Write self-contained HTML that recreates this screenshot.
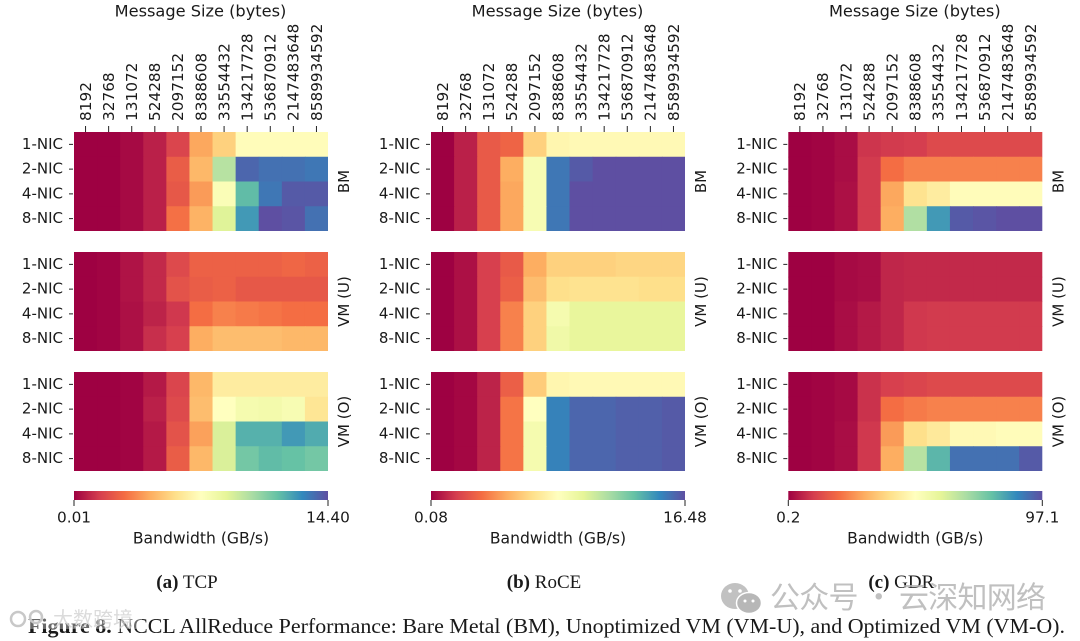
<!DOCTYPE html>
<html lang="en">
<head>
<meta charset="utf-8">
<title>NCCL AllReduce Performance Heatmaps</title>
<style>
html,body{margin:0;padding:0;background:#fff;width:1080px;height:641px;overflow:hidden}
svg{display:block;filter:blur(.35px)}
.m{font-family:"DejaVu Sans","Liberation Sans",sans-serif;fill:#1a1a1a}
.s{font-family:"Liberation Serif",serif;fill:#1a1a1a}
</style>
</head>
<body>
<svg id="chart" xmlns="http://www.w3.org/2000/svg" width="1080" height="641" viewBox="0 0 1080 641">
<defs>
<linearGradient id="spectral" x1="0" x2="1" y1="0" y2="0">
<stop offset="0" stop-color="#9e0142"/><stop offset=".1" stop-color="#d53e4f"/><stop offset=".2" stop-color="#f46d43"/><stop offset=".3" stop-color="#fdae61"/><stop offset=".4" stop-color="#fee08b"/><stop offset=".5" stop-color="#ffffbf"/><stop offset=".6" stop-color="#e6f598"/><stop offset=".7" stop-color="#abdda4"/><stop offset=".8" stop-color="#66c2a5"/><stop offset=".9" stop-color="#3288bd"/><stop offset="1" stop-color="#5e4fa2"/>
</linearGradient>
</defs>
<g id="panels"></g>
<text class="s" x="28" y="633" font-size="21" textLength="1037" lengthAdjust="spacingAndGlyphs"><tspan font-weight="bold">Figure 8.</tspan> NCCL AllReduce Performance: Bare Metal (BM), Unoptimized VM (VM-U), and Optimized VM (VM-O).</text>
<g opacity="0.82">
<ellipse cx="735" cy="596" rx="14" ry="13" fill="#b4b4b4"/>
<ellipse cx="749" cy="603" rx="12.5" ry="10.5" fill="#a8a8a8" stroke="#fff" stroke-width="1.5"/>
<circle cx="730" cy="591" r="1.8" fill="#fff"/>
<circle cx="740" cy="591" r="1.8" fill="#fff"/>
<circle cx="745" cy="601" r="1.5" fill="#fff"/>
<circle cx="753" cy="601" r="1.5" fill="#fff"/>
<text x="770" y="608" font-size="30" fill="#b2b2b2" textLength="276" style="font-family:'Noto Sans CJK SC',sans-serif">公众号 · 云深知网络</text>
</g>
<g>
<rect x="8" y="611" width="134" height="18" fill="#fff" opacity="0.35"/>
<circle cx="18" cy="619" r="7" fill="none" stroke="#c8c8c8" stroke-width="2.5"/>
<circle cx="36" cy="617" r="6" fill="none" stroke="#c8c8c8" stroke-width="2.5"/>
<text x="53" y="626" font-size="20" fill="#d2d2d2" opacity=".8" style="font-family:'Noto Sans CJK SC',sans-serif">大数跨境</text>
</g>
</svg>
<script>
// Message sizes (columns) and NIC counts (rows)
var messageSizes = ["8192","32768","131072","524288","2097152","8388608","33554432","134217728","536870912","2147483648","8589934592"];
var nicLabels = ["1-NIC","2-NIC","4-NIC","8-NIC"];
var groupLabels = ["BM","VM (U)","VM (O)"];

// Bandwidth per cell, expressed as position on the colour bar (0 = min, 1 = max)
var tcpBM = [
 [0,0,.015,.05,.115,.29,.37,.49,.49,.49,.49],
 [0,0,.015,.05,.165,.32,.68,.96,.94,.94,.93],
 [0,0,.015,.05,.155,.27,.52,.81,.93,.98,.98],
 [0,0,.015,.05,.205,.31,.61,.87,1,.99,.94]];
var tcpVMU = [
 [0,.005,.03,.065,.125,.175,.175,.175,.175,.185,.175],
 [0,.005,.03,.065,.145,.165,.175,.155,.155,.155,.155],
 [0,.005,.025,.055,.09,.2,.23,.22,.21,.2,.2],
 [0,.005,.025,.075,.105,.3,.33,.33,.33,.32,.32]];
var tcpVMO = [
 [0,0,.005,.04,.115,.32,.44,.44,.44,.44,.44],
 [0,0,.005,.05,.125,.33,.5,.54,.55,.53,.42],
 [0,0,.005,.04,.145,.28,.62,.83,.83,.87,.84],
 [0,0,.005,.04,.165,.32,.62,.78,.81,.8,.78]];
var roceBM = [
 [0,.05,.16,.18,.37,.47,.48,.48,.48,.48,.48],
 [0,.05,.16,.3,.53,.93,.98,1,1,1,1],
 [0,.05,.16,.29,.53,.93,1,1,1,1,1],
 [0,.05,.16,.29,.53,.93,1,1,1,1,1]];
var roceVMU = [
 [0,.025,.105,.16,.3,.37,.37,.37,.38,.38,.38],
 [0,.025,.105,.17,.33,.4,.41,.41,.41,.4,.4],
 [0,.025,.105,.23,.37,.54,.59,.59,.59,.59,.59],
 [0,.025,.105,.23,.37,.56,.59,.59,.59,.59,.59]];
var roceVMO = [
 [0,.01,.055,.17,.36,.47,.48,.48,.48,.48,.48],
 [0,.01,.055,.21,.5,.91,.96,.96,.97,.97,.98],
 [0,.01,.055,.21,.54,.91,.96,.96,.97,.97,.98],
 [0,.01,.055,.21,.54,.91,.96,.96,.97,.97,.98]];
var gdrBM = [
 [0,.005,.02,.085,.095,.1,.125,.125,.125,.125,.125],
 [0,.005,.02,.095,.2,.23,.23,.23,.23,.23,.23],
 [0,.005,.025,.095,.29,.41,.44,.49,.49,.49,.49],
 [0,.005,.025,.095,.3,.69,.87,.98,.99,1,1]];
var gdrVMU = [
 [0,0,.015,.02,.06,.065,.065,.065,.065,.065,.065],
 [0,0,.015,.02,.06,.065,.065,.065,.065,.065,.065],
 [0,0,.02,.04,.06,.09,.095,.095,.095,.095,.095],
 [0,0,.02,.04,.06,.09,.095,.095,.095,.095,.095]];
var gdrVMO = [
 [0,.005,.015,.08,.105,.115,.125,.125,.125,.125,.125],
 [0,.005,.015,.08,.2,.22,.23,.23,.23,.23,.23],
 [0,.005,.02,.09,.27,.4,.43,.48,.48,.49,.49],
 [0,.005,.02,.09,.3,.68,.82,.94,.94,.94,.98]];

var panelKeys = ["tcp","roce","gdr"];
var panelValues = [[tcpBM,tcpVMU,tcpVMO],[roceBM,roceVMU,roceVMO],[gdrBM,gdrVMU,gdrVMO]];
var colorbarMin = ["0.01","0.08","0.2"];
var colorbarMax = ["14.40","16.48","97.1"];
var captionTag = ["(a)","(b)","(c)"];
var captionName = ["TCP","RoCE","GDR"];

var spectral = [[158,1,66],[213,62,79],[244,109,67],[253,174,97],[254,224,139],[255,255,191],[230,245,152],[171,221,164],[102,194,165],[50,136,189],[94,79,162]];
function colorOf(t){
  t = Math.max(0, Math.min(1, t));
  var p = t * 10, i = Math.min(9, Math.floor(p)), f = p - i, a = spectral[i], b = spectral[i + 1];
  return "rgb(" + [0,1,2].map(function(k){ return Math.round(a[k] + (b[k] - a[k]) * f); }).join(",") + ")";
}

var NS = "http://www.w3.org/2000/svg";
function node(parent, tag, attrs, text){
  var el = document.createElementNS(NS, tag);
  for (var k in attrs) el.setAttribute(k, attrs[k]);
  if (text !== undefined) el.textContent = text;
  parent.appendChild(el);
  return el;
}

var panelsRoot = document.getElementById("panels");
var panelLeft = [74, 431, 788.3], plotW = 254, groupTop = [132, 252, 372], plotH = 99;
function xCell(col){ return col * plotW / messageSizes.length; }
function yCell(row){ return row * plotH / nicLabels.length; }

panelKeys.forEach(function(key, p){
  var x0 = panelLeft[p];
  var g = node(panelsRoot, "g", {});
  
  

  var title = node(g, "text", {"class":"m", x:x0 + plotW / 2 - 0.5, y:16.5, "font-size":16.2, "text-anchor":"middle"}, "Message Size (bytes)");
  
  

  messageSizes.forEach(function(label, c){
    var cx = x0 + xCell(c + 0.5);
    var tick = node(g, "line", {x1:cx, x2:cx, y1:126, y2:132, stroke:"#222", "stroke-width":1});
    
    
    var t = node(g, "text", {"class":"m", transform:"translate(" + (cx + 5.3) + ",121) rotate(-90)", "font-size":15.3}, label);
    
    
  });

  panelValues[p].forEach(function(matrix, gi){
    var y0 = groupTop[gi];
    var grp = node(g, "g", {});
    
    
    matrix.forEach(function(rowVals, r){
      rowVals.forEach(function(v, c){
        var extraW = c < rowVals.length - 1 ? 0.6 : 0;
        var extraH = r < matrix.length - 1 ? 0.6 : 0;
        var cell = node(grp, "rect", {x:x0 + xCell(c), y:y0 + yCell(r), width:xCell(1) + extraW, height:yCell(1) + extraH, fill:colorOf(v)});
        
        
      });
      var cy = y0 + yCell(r + 0.5);
      var yt = node(grp, "line", {x1:x0 - 5, x2:x0 - 1, y1:cy, y2:cy, stroke:"#222", "stroke-width":1});
      
      
      var yl = node(grp, "text", {"class":"m", x:x0 - 11, y:cy + 4.5, "font-size":15, "text-anchor":"end"}, nicLabels[r]);
      
      
    });
    var rl = node(grp, "text", {"class":"m", transform:"translate(" + (x0 + plotW + 21) + "," + (y0 + plotH / 2) + ") rotate(-90)", "font-size":15, "text-anchor":"middle"}, groupLabels[gi]);
    
    
  });

  var bar = node(g, "rect", {x:x0, y:491, width:plotW, height:9, fill:"url(#spectral)"});
  
  
  [[colorbarMin[p], x0], [colorbarMax[p], x0 + plotW]].forEach(function(item){
    var ct = node(g, "line", {x1:item[1], x2:item[1], y1:500, y2:506, stroke:"#222", "stroke-width":1});
    
    
    var cl = node(g, "text", {"class":"m", x:item[1], y:522.5, "font-size":15.3, "text-anchor":"middle"}, item[0]);
    
    
  });
  var ctitle = node(g, "text", {"class":"m", x:x0 + plotW / 2, y:543.5, "font-size":15.6, "text-anchor":"middle"}, "Bandwidth (GB/s)");
  
  

  var cap = node(g, "text", {"class":"s", x:x0 + plotW / 2 - 14, y:588, "font-size":19, "text-anchor":"middle"});
  
  
  node(cap, "tspan", {"font-weight":"bold"}, captionTag[p]);
  node(cap, "tspan", {}, " " + captionName[p]);
});
</script>
</body>
</html>
